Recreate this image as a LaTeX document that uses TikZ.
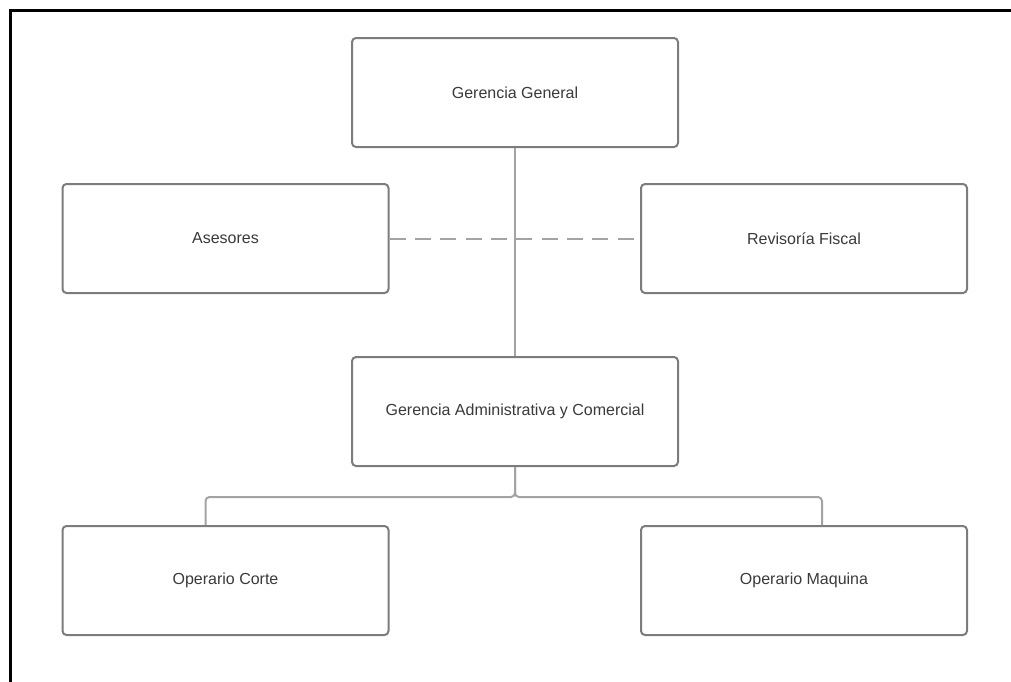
\documentclass[tikz,border=0pt]{standalone}
\usepackage{fontspec}
\setmainfont{Liberation Sans}
\usetikzlibrary{positioning}

\definecolor{boxline}{HTML}{7C7C7C}
\definecolor{linkline}{HTML}{A3A3A3}
\definecolor{labeltext}{HTML}{3A3A3A}

\begin{document}
\begin{tikzpicture}[
  x=0.75pt, y=-0.75pt,
  node distance=156pt,
  orgbox/.style={draw=boxline, line width=1.5pt, rounded corners=3pt, fill=white,
    minimum width=244.5pt, minimum height=81.75pt, text=labeltext,
    font=\fontsize{12}{14}\selectfont},
  link/.style={draw=linkline, line width=1.5pt},
  advice/.style={draw=linkline, line width=1.5pt, dash pattern=on 12pt off 7pt}
]
\useasboundingbox (0,0) rectangle (1011,682);
\draw[line width=2.25pt] (10,682) -- (10,10) -- (1011,10);

\node[orgbox] (gg) at (515,92.5) {Gerencia General};
\node[orgbox, below=of gg] (ga) {Gerencia Administrativa y Comercial};
\node[orgbox] (ases) at (225.5,238.5) {Asesores};
\node[orgbox] (rf) at (804,238.5) {Revisoría Fiscal};
\node[orgbox] (oc) at (225.5,580.5) {Operario Corte};
\node[orgbox] (om) at (804,580.5) {Operario Maquina};

\draw[link] (gg) -- (ga);
\draw[advice] (ases) -- (rf);
\draw[link, rounded corners=3pt] (ga.south) -- ++(0,30) -| ([xshift=-15pt]oc.north);
\draw[link, rounded corners=3pt] (ga.south) -- ++(0,30) -| ([xshift=13.5pt]om.north);
\end{tikzpicture}
\end{document}
